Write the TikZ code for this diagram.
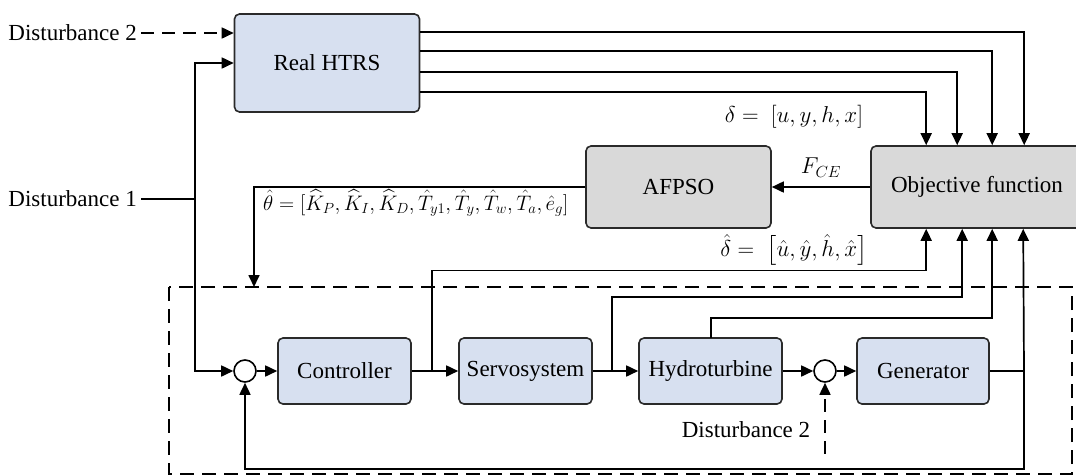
\RequirePackage{fix-cm}
\documentclass[tikz,border=0pt]{standalone}
\usepackage{amsmath}
\usepackage{fontspec}
\setmainfont{Liberation Serif}
\newfontfamily\tnr{Liberation Serif}
\usetikzlibrary{arrows.meta,calc}
\definecolor{boxblue}{HTML}{D7E0F0}
\definecolor{boxgray}{HTML}{D9D9D9}
\definecolor{boxline}{HTML}{2A2A2A}
\tikzset{
  every node/.style={font=\tnr\fontsize{23}{27}\selectfont},
  blk/.style={draw=boxline, line width=1.6pt, rounded corners=5pt, fill=boxblue, align=center, inner sep=0pt},
  gblk/.style={blk, fill=boxgray},
  sumc/.style={circle, draw=black, line width=1.6pt, fill=white, minimum size=22pt, inner sep=0pt},
  conn/.style={line width=1.7pt, draw=black},
  arr/.style={conn, -{Triangle[length=12pt,width=11pt]}},
  darr/.style={arr, dash pattern=on 13pt off 8pt},
  dline/.style={conn, dash pattern=on 14pt off 8pt},
  lbl/.style={inner sep=0pt}
}
\begin{document}
\begin{tikzpicture}[x=1pt,y=-1pt]
\useasboundingbox (0,0) rectangle (1076,475);
\clip (0,0) rectangle (1076,475);
% blocks
\node[blk, minimum width=185pt, minimum height=98pt] (rh) at (327,63) {Real HTRS};
\node[gblk, minimum width=185pt, minimum height=82pt] (afpso) at (678.5,187) {AFPSO};
\node[gblk, minimum width=212pt, minimum height=82pt] (obj) at (977,187) {Objective function};
\node[blk, minimum width=133pt, minimum height=66pt] (ctrl) at (344.5,371) {Controller};
\node[blk, minimum width=133pt, minimum height=66pt] (serv) at (525.5,371) {Servosystem};
\node[blk, minimum width=143pt, minimum height=66pt] (hyd) at (710.5,371) {Hydroturbine};
\node[blk, minimum width=132pt, minimum height=66pt] (gen) at (923,371) {Generator};
\node[sumc] (s1) at (245,371) {};
\node[sumc] (s2) at (825,371) {};
% dashed model box
\draw[dline] (169,287) rectangle (1072,474);
% disturbances
\node[lbl, anchor=east] (d2) at (137,33) {Disturbance 2};
\node[lbl, anchor=east] (d1) at (137,199) {Disturbance 1};
\node[lbl] (d2b) at (746,430) {Disturbance 2};
\coordinate (j1) at (195,199);
\draw[darr] ($(d2.east)+(4,0)$) -- (rh.west |- d2.east);
\draw[conn] ($(d1.east)+(4,0)$) -- (j1);
\draw[arr] (j1) |- (rh.west);
\draw[arr] (j1) |- (s1.west);
% Real HTRS outputs to objective
\coordinate (o1) at ($(obj.north west)+(56,0)$);
\coordinate (o2) at ($(obj.north west)+(87,0)$);
\coordinate (o3) at ($(obj.north west)+(122,0)$);
\coordinate (o4) at ($(obj.north west)+(154,0)$);
\draw[arr] ($(rh.north east)+(0,19)$) -| (o4);
\draw[arr] ($(rh.north east)+(0,38)$) -| (o3);
\draw[arr] ($(rh.north east)+(0,59)$) -| (o2);
\draw[arr] ($(rh.north east)+(0,79)$) -| (o1);
\node[lbl] (delta) at (794,117) {$\delta =\ [u, y, h, x]$};
% objective -> AFPSO
\draw[arr] (obj.west) -- (afpso.east) node[lbl, midway, above=9pt] (fce) {$F_{CE}$};
% AFPSO -> model
\coordinate (mt) at (254,287);
\draw[arr] (afpso.west) -| (mt);
\node[lbl, anchor=west, font=\tnr\fontsize{21}{25}\selectfont] (theta) at (263,203) {$\hat{\theta} = [\widehat{K}_P, \widehat{K}_I, \widehat{K}_D, \hat{T}_{y1}, \hat{T}_y, \hat{T}_w, \hat{T}_a, \hat{e}_g]$};
% inner loop
\draw[arr] (s1.east) -- (ctrl.west);
\draw[arr] (ctrl.east) -- (serv.west);
\draw[arr] (serv.east) -- (hyd.west);
\draw[arr] (hyd.east) -- (s2.west);
\draw[arr] (s2.east) -- (gen.west);
\draw[darr] ($(s2.south)+(0,71)$) -- (s2.south);
% model outputs to objective
\coordinate (b1) at ($(obj.south west)+(56,0)$);
\coordinate (b2) at ($(obj.south west)+(92,0)$);
\coordinate (b3) at ($(obj.south west)+(122,0)$);
\coordinate (b4) at ($(obj.south west)+(153,0)$);
\coordinate (c1) at (432,371);
\coordinate (c2) at (612,371);
\coordinate (c3) at (711,338);
\coordinate (c4) at (1024,371);
\coordinate (l1) at (0,270.5);
\coordinate (l2) at (0,297);
\coordinate (l3) at (0,318);
\coordinate (l4) at (0,469);
\draw[arr] (c1) -- (c1 |- l1) -- (b1 |- l1) -- (b1);
\draw[arr] (c2) -- (c2 |- l2) -- (b2 |- l2) -- (b2);
\draw[arr] (c3) -- (c3 |- l3) -- (b3 |- l3) -- (b3);
\draw[conn] (gen.east) -- (c4);
\draw[arr] (c4) -- (b4);
\draw[arr] (c4) -- (c4 |- l4) -- (s1 |- l4) -- (s1.south);
\node[lbl] (dhat) at (794,250) {$\hat{\delta} =\ \bigl[\hat{u}, \hat{y}, \hat{h}, \hat{x}\bigr]$};
\end{tikzpicture}
\end{document}
